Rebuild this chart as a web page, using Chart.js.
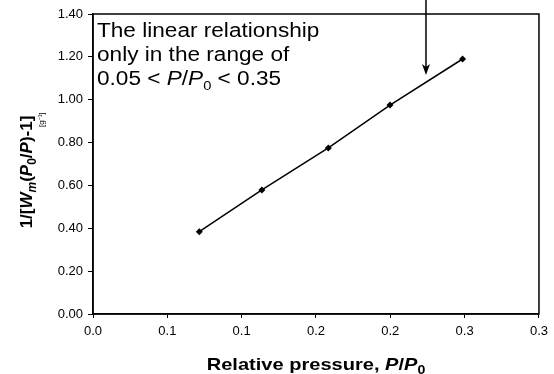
<!DOCTYPE html>
<html>
<head>
<meta charset="utf-8">
<script src="https://cdn.jsdelivr.net/npm/chart.js@4"></script>
<style>
  body { margin: 0; background: #fff; }
  #wrap { width: 554px; height: 374px; }
</style>
</head>
<body>
<div id="wrap"><canvas id="bet" width="554" height="374"></canvas></div>
<script>
// ------------------ Data ------------------
const relPressure = [0.0715, 0.1136, 0.1583, 0.1998, 0.2486];
const betValues = [0.384, 0.579, 0.775, 0.975, 1.19];
const xTickLabels = ['0.0', '0.1', '0.1', '0.2', '0.2', '0.3', '0.3'];
const noteLines = ['The linear relationship', 'only in the range of'];
// arrow tip (data coords), points at the fitted line
const arrowTip = { x: 0.224, y: 1.115 };

const FONT = '"Liberation Sans", Arial, sans-serif';

// draw a row of text pieces with different fonts / offsets, sx = horizontal stretch
function drawRuns(ctx, runs, x, y, align, sx) {
    sx = sx || 1;
    let total = 0;
    runs.forEach(r => { ctx.font = r.font; total += ctx.measureText(r.text).width * sx; });
    let cx = align === 'center' ? x - total / 2 : x;
    runs.forEach(r => {
        ctx.font = r.font;
        ctx.save();
        ctx.translate(cx, y + (r.dy || 0));
        ctx.scale(sx, 1);
        ctx.fillText(r.text, 0, 0);
        ctx.restore();
        cx += ctx.measureText(r.text).width * sx;
    });
}

// ------------------ Frame + annotations ------------------
const extrasPlugin = {
    id: 'extras',
    afterDraw(chart) {
        const {ctx, chartArea: a, scales} = chart;
        ctx.save();

        // box around plot
        ctx.strokeStyle = '#000';
        ctx.lineWidth = 1.5;
        ctx.strokeRect(a.left, a.top, a.right - a.left, a.bottom - a.top);

        ctx.fillStyle = '#000';
        ctx.textBaseline = 'alphabetic';
        ctx.textAlign = 'left';

        // note text
        const reg = '20px ' + FONT, it = 'italic 20px ' + FONT, sub = '13px ' + FONT;
        const nsx = 1.13;
        drawRuns(ctx, [{text: noteLines[0], font: reg}], 97, 37, 'left', nsx);
        drawRuns(ctx, [{text: noteLines[1], font: reg}], 97, 61, 'left', nsx);
        drawRuns(ctx, [
            {text: '0.05 < ', font: reg},
            {text: 'P', font: it},
            {text: '/', font: reg},
            {text: 'P', font: it},
            {text: '0', font: sub, dy: 5},
            {text: ' < 0.35', font: reg}
        ], 97, 85, 'left', nsx);

        // arrow
        const ax = scales.x.getPixelForValue(arrowTip.x);
        const ay = scales.y.getPixelForValue(arrowTip.y);
        ctx.lineWidth = 1.5;
        ctx.beginPath();
        ctx.moveTo(ax, 0);
        ctx.lineTo(ax, ay - 8);
        ctx.stroke();
        ctx.beginPath();
        ctx.moveTo(ax, ay);
        ctx.lineTo(ax - 4, ay - 11);
        ctx.lineTo(ax, ay - 8);
        ctx.lineTo(ax + 4, ay - 11);
        ctx.closePath();
        ctx.fill();

        // x axis title
        const b = 'bold 17px ' + FONT, bi = 'bold italic 17px ' + FONT, bs = 'bold 12px ' + FONT;
        drawRuns(ctx, [
            {text: 'Relative pressure, ', font: b},
            {text: 'P', font: bi},
            {text: '/', font: b},
            {text: 'P', font: bi},
            {text: '0', font: bs, dy: 4}
        ], (a.left + a.right) / 2, 370, 'center', 1.18);

        // y axis title (rotated)
        ctx.translate(32, 172);
        ctx.rotate(-Math.PI / 2);
        const yb = 'bold 17px ' + FONT, ybi = 'bold italic 17px ' + FONT;
        const ybs = 'bold 12px ' + FONT, ybsi = 'bold italic 12px ' + FONT;
        drawRuns(ctx, [
            {text: '1/[', font: yb},
            {text: 'W', font: ybi},
            {text: 'm', font: ybsi, dy: 4},
            {text: '(', font: yb},
            {text: 'P', font: ybi},
            {text: '0', font: ybs, dy: 4},
            {text: '/', font: yb},
            {text: 'P', font: ybi},
            {text: ')-1]', font: yb}
        ], 0, 0, 'center');
        ctx.font = '8px ' + FONT;
        ctx.fillText('[g\u207B\u00B9]', 45, 12);
        ctx.restore();
    }
};

// ------------------ Chart ------------------
const ctx = document.getElementById('bet').getContext('2d');

new Chart(ctx, {
    type: 'scatter',
    data: {
        datasets: [{
            data: relPressure.map((p, i) => ({x: p, y: betValues[i]})),
            showLine: true,
            borderColor: '#000',
            borderWidth: 1.5,
            backgroundColor: '#000',
            pointStyle: 'rectRot',
            pointRadius: 3.5,
            pointBorderWidth: 0
        }]
    },
    options: {
        responsive: false,
        animation: false,
        layout: { padding: { top: 14, right: 12, left: 0, bottom: 0 } },
        plugins: {
            legend: { display: false },
            tooltip: { enabled: false }
        },
        scales: {
            x: {
                type: 'linear',
                min: 0,
                max: 0.3,
                afterFit(scale) { scale.height = 60; },
                ticks: {
                    stepSize: 0.05,
                    color: '#000',
                    font: { family: FONT, size: 13 },
                    padding: 6,
                    maxRotation: 0,
                    callback: (v, i) => xTickLabels[i]
                },
                grid: { drawOnChartArea: false, drawTicks: true, tickLength: 4, color: '#000' },
                border: { display: true, color: '#000', width: 1.5 }
            },
            y: {
                min: 0,
                max: 1.4,
                afterFit(scale) { scale.width = 93; },
                ticks: {
                    stepSize: 0.2,
                    color: '#000',
                    font: { family: FONT, size: 13 },
                    padding: 5,
                    callback: v => v.toFixed(2)
                },
                grid: { drawOnChartArea: false, drawTicks: true, tickLength: 5, color: '#000' },
                border: { display: true, color: '#000', width: 1.5 }
            }
        }
    },
    plugins: [extrasPlugin]
});
</script>
</body>
</html>
